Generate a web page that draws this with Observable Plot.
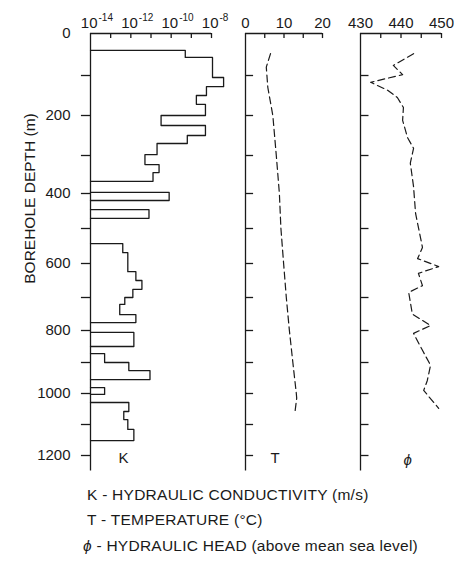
<!DOCTYPE html>
<html><head><meta charset="utf-8">
<script src="https://cdn.jsdelivr.net/npm/d3@7"></script>
<script src="https://cdn.jsdelivr.net/npm/@observablehq/plot@0.6"></script>
<style>
body{margin:0;background:#fff;}
#chart{position:relative;width:454px;height:577px;font-family:"Liberation Sans",Arial,sans-serif;color:#1a1a1a;}
#chart svg{position:absolute;top:0;}
.leg{position:absolute;left:87px;font-size:15.5px;letter-spacing:0.25px;line-height:20px;white-space:nowrap;}
</style></head><body><div id="chart"></div>
<script>
// ---- depth axis (m) ----
const depthTicks = [0,100,200,300,400,500,600,700,800,900,1000,1100,1200,1250];
const depthLabels = [0,200,400,600,800,1000,1200];
const depthMinor = [100,200,300,400,500,600,700,800,900,1000,1100,1200];

// ---- K : hydraulic conductivity (m/s), intervals ----
const kTop    = [40,57,105,128,150,172,200,225,250,270,298,324,345, 397, 446, 543,569,624,650,676,700,721,752, 806, 872,900,926, 981, 1029,1058,1084,1116];
const kBottom = [57,105,128,150,172,200,225,250,270,298,324,345,368, 420, 471, 569,624,650,676,700,721,752,776, 850, 900,926,955, 1003, 1058,1084,1116,1152];
const kLog10  = [-9.3,-7.95,-7.4,-8.25,-8.75,-8.3,-10.5,-8.3,-9.2,-10.7,-11.3,-10.6,-10.9, -10.1, -11.1, -12.4,-12.15,-11.75,-11.45,-11.9,-12.3,-12.55,-11.75, -11.85, -13.3,-12.1,-11.05, -13.3, -12.1,-12.35,-12.15,-11.85];
const kDecades = [-14,-13,-12,-11,-10,-9,-8];
const kLabelDecades = [-14,-12,-10,-8];

// ---- T : temperature (°C) ----
const tDepth = [48,80,130,200,300,400,500,600,700,800,900,1000,1015,1055];
const tValue = [6.5,5.4,5.8,7.1,8.0,8.8,9.2,9.9,10.6,11.4,12.3,13.2,13.3,12.9];
const tTicks = [0,5,10,15,20];
const tLabels = [0,10,20];

// ---- phi : hydraulic head (m above mean sea level) ----
const hDepth = [48,76,98,117,137,155,180,212,255,282,320,382,457,554,586,609,629,665,685,750,785,809,862,909,958,990,1048];
const hValue = [443.1,438.1,440.4,432.5,436.7,439.1,440.6,440.4,441.6,443.1,442.3,443.1,443.6,445.3,444.1,449.3,444.3,445.3,441.9,442.8,447.3,443.1,445.3,447.3,446.5,445.6,449.3];
const hTicks = [430,435,440,445,450];
const hLabels = [430,440,450];

// ---- layout ----
const H = 480, TOP = 33, BOT = 470.5;
// the scanned depth axis is slightly compressed with depth: piecewise warp
const depthPx = [33,75,115,155,193,228,263,297,330,362,393,424,455,470.5];
const warp = d3.scaleLinear().domain(depthTicks).range(depthPx);
const ink = "#1a1a1a", sw = 1.3;
const style = {background:"transparent", fontFamily:"'Liberation Sans', Arial, sans-serif", fontSize:"15px", color:ink, overflow:"visible"};
const yScale = {type: "linear", transform: d => warp(d), domain: [TOP, BOT], range: [TOP, BOT], axis: null};

// K step outline
const kPath = [];
let block = 0;
for (let i = 0; i < kTop.length; i++) {
  const K = 10 ** kLog10[i];
  const start = i === 0 || kTop[i] !== kBottom[i - 1];
  if (start) {
    if (i > 0) { kPath.push({x: 1e-14, y: kBottom[i - 1], b: block}); block++; }
    kPath.push({x: 1e-14, y: kTop[i], b: block});
  }
  kPath.push({x: K, y: kTop[i], b: block});
  kPath.push({x: K, y: kBottom[i], b: block});
}
kPath.push({x: 1e-14, y: kBottom[kBottom.length - 1], b: block});

const chart = document.getElementById("chart");

// Panel K
const kLeft = 0, kW = 232;
const pK = Plot.plot({
  width: kW, height: H, marginLeft: 90 - kLeft, marginRight: kW - (211 - kLeft), marginTop: TOP, marginBottom: H - BOT,
  style,
  x: {type: "log", domain: [1e-14, 1e-8], range: [90 - kLeft, 211 - kLeft], axis: null},
  y: yScale,
  marks: [
    Plot.ruleX([1e-14], {y1: 0, y2: 1250, stroke: ink, strokeWidth: sw}),
    Plot.ruleY([0], {x1: 1e-14, x2: 1e-8, stroke: ink, strokeWidth: sw}),
    Plot.ruleX(kDecades.slice(1), {x: d => 10 ** d, y1: 0, y2: 12, stroke: ink, strokeWidth: sw}),
    Plot.ruleY(depthMinor, {x1: 10 ** -14.45, x2: 1e-14, stroke: ink, strokeWidth: sw}),
    Plot.text(depthLabels, {x: 1e-14, y: d => d, text: d => String(d), textAnchor: "end", dx: -20, fill: ink}),
    Plot.text(kLabelDecades, {x: d => 10 ** d, y: 0, text: () => "10", textAnchor: "end", dx: 7, dy: -10, fill: ink}),
    Plot.text(kLabelDecades, {x: d => 10 ** d, y: 0, text: d => String(d), textAnchor: "start", dx: 8, dy: -16, fontSize: 10, fill: ink}),
    Plot.line(kPath, {x: "x", y: "y", z: "b", stroke: ink, strokeWidth: sw, curve: "linear"}),
    Plot.text(["K"], {frameAnchor: "bottom-left", dx: 28, dy: -8, text: d => d, fill: ink}),
    Plot.text(["BOREHOLE DEPTH (m)"], {frameAnchor: "top-left", dx: 23 - 90, dy: 198 - TOP, rotate: -90, textAnchor: "middle", fontSize: 15.5, text: d => d, fill: ink})
  ]
});
pK.style.left = kLeft + "px";
chart.appendChild(pK);

// Panel T
const tLeft = 232, tW = 100;
const pT = Plot.plot({
  width: tW, height: H, marginLeft: 245 - tLeft, marginRight: tW - (322 - tLeft), marginTop: TOP, marginBottom: H - BOT,
  style,
  x: {domain: [0, 20], range: [245 - tLeft, 322 - tLeft], axis: null},
  y: yScale,
  marks: [
    Plot.ruleX([0], {y1: 0, y2: 1250, stroke: ink, strokeWidth: sw}),
    Plot.ruleY([0], {x1: 0, x2: 20, stroke: ink, strokeWidth: sw}),
    Plot.ruleX(tTicks.slice(1), {y1: 0, y2: 12, stroke: ink, strokeWidth: sw}),
    Plot.ruleY(depthMinor, {x1: 0, x2: 2.1, stroke: ink, strokeWidth: sw}),
    Plot.text(tLabels, {x: d => d, y: 0, text: d => String(d), dy: -10, fill: ink}),
    Plot.line(tDepth.map((d, i) => ({d, v: tValue[i]})), {x: "v", y: "d", stroke: ink, strokeWidth: 1.2, strokeDasharray: "7,4"}),
    Plot.text(["T"], {frameAnchor: "bottom-left", dx: 25, dy: -8, text: d => d, fill: ink})
  ]
});
pT.style.left = tLeft + "px";
chart.appendChild(pT);

// Panel phi
const hLeft = 332, hW = 122;
const pH = Plot.plot({
  width: hW, height: H, marginLeft: 360 - hLeft, marginRight: hW - (441 - hLeft), marginTop: TOP, marginBottom: H - BOT,
  style,
  x: {domain: [430, 450], range: [360 - hLeft, 441 - hLeft], axis: null},
  y: yScale,
  marks: [
    Plot.ruleX([430], {y1: 0, y2: 1250, stroke: ink, strokeWidth: sw}),
    Plot.ruleY([0], {x1: 430, x2: 450, stroke: ink, strokeWidth: sw}),
    Plot.ruleX(hTicks.slice(1), {y1: 0, y2: 12, stroke: ink, strokeWidth: sw}),
    Plot.ruleY(depthMinor, {x1: 430, x2: 432.1, stroke: ink, strokeWidth: sw}),
    Plot.text(hLabels, {x: d => d, y: 0, text: d => String(d), dy: -10, fill: ink}),
    Plot.line(hDepth.map((d, i) => ({d, v: hValue[i]})), {x: "v", y: "d", stroke: ink, strokeWidth: 1.2, strokeDasharray: "7,4"}),
    Plot.text(["ϕ"], {frameAnchor: "bottom-left", dx: 43, dy: -6, text: d => d, fontStyle: "italic", fill: ink})
  ]
});
pH.style.left = hLeft + "px";
chart.appendChild(pH);

// legend
const legend = [
  ["K", " - HYDRAULIC CONDUCTIVITY (m/s)", 485, false],
  ["T", " - TEMPERATURE (°C)", 510, false],
  ["ϕ", " - HYDRAULIC HEAD (above mean sea level)", 536, true]
];
for (const [sym, txt, top, it] of legend) {
  const d = document.createElement("div");
  d.className = "leg";
  d.style.top = top + "px";
  if (it) d.style.left = "83px";
  const s = document.createElement(it ? "i" : "span");
  s.textContent = sym;
  d.appendChild(s);
  d.appendChild(document.createTextNode(txt));
  chart.appendChild(d);
}
</script></body></html>
